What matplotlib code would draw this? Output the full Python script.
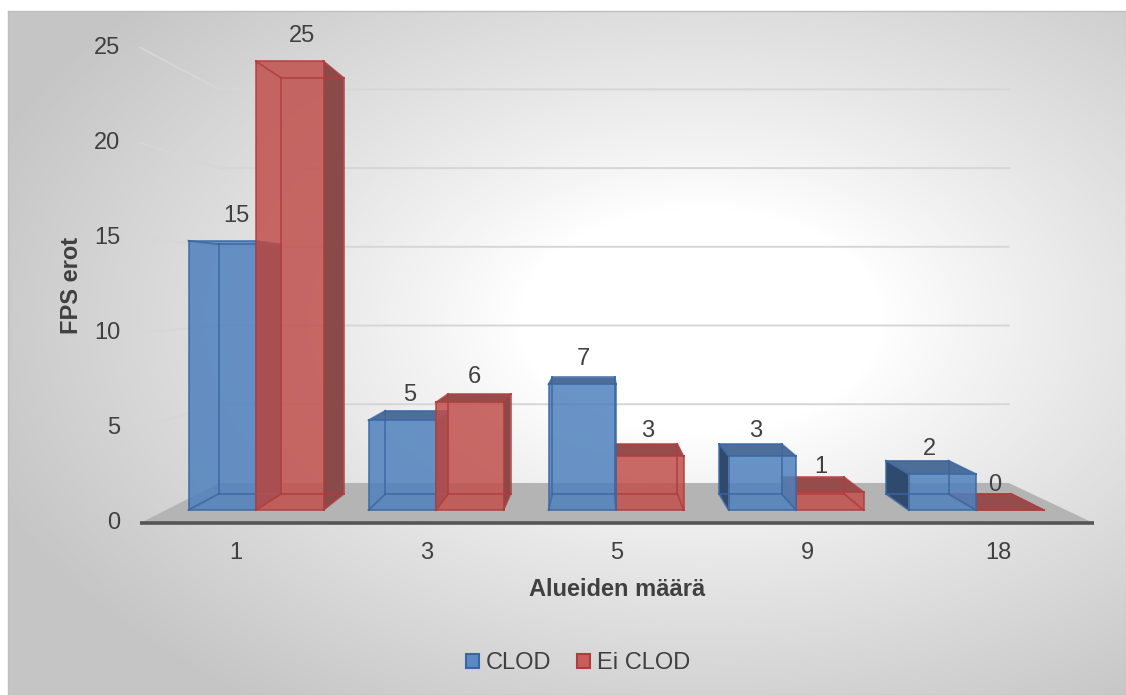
import numpy as np
import matplotlib
matplotlib.use("Agg")
import matplotlib.pyplot as plt
from matplotlib.patches import Polygon, Patch

plt.rcParams['font.family'] = ['Liberation Sans', 'DejaVu Sans']

# Data
categories = ['1', '3', '5', '9', '18']
clod = [15, 5, 7, 3, 2]
ei_clod = [25, 6, 3, 1, 0]
series_names = ['CLOD', 'Ei CLOD']
y_ticks = [0, 5, 10, 15, 20, 25]

# Styling
TEXT = '#404040'
FRONT = ['#4f81bd', '#c0504d']
SIDE = ['#2f4a6c', '#8a4a4a']
TOP = ['#4c6e98', '#974c4c']
EDGE = ['#3a67a3', '#b03d3c']
FS = 17

# Perspective: vanishing point (data units) and focal depth
VX, VY, F = 1.911, 12.26, 12.7
BAR_W = 0.375
Z_FRONT, Z_BACK = -0.71, 1.78
X_LEFT, X_RIGHT = -0.5, len(categories) - 0.5


def proj(x, y, z):
    s = F / (F + z)
    return VX + (x - VX) * s, VY + (y - VY) * s


def poly(ax, pts, **kw):
    xy = [proj(*p) for p in pts]
    ax.add_patch(Polygon(xy, closed=True, **kw))


def draw_box(ax, x0, x1, v, k):
    # visible side faces
    if x1 < VX:
        poly(ax, [(x1, 0, 0), (x1, 0, 1), (x1, v, 1), (x1, v, 0)],
             facecolor=SIDE[k], edgecolor='none', zorder=3)
    if x0 > VX:
        poly(ax, [(x0, 0, 0), (x0, 0, 1), (x0, v, 1), (x0, v, 0)],
             facecolor=SIDE[k], edgecolor='none', zorder=3)
    if v < VY:
        poly(ax, [(x0, v, 0), (x1, v, 0), (x1, v, 1), (x0, v, 1)],
             facecolor=TOP[k], edgecolor='none', zorder=3)
    poly(ax, [(x0, 0, 0), (x1, 0, 0), (x1, v, 0), (x0, v, 0)],
         facecolor=FRONT[k], alpha=0.85, edgecolor='none', zorder=3)
    # all twelve edges, shown through the transparent faces
    for xa in (x0, x1):
        for ya in (0, v):
            xs, ys = zip(proj(xa, ya, 0), proj(xa, ya, 1))
            ax.plot(xs, ys, color=EDGE[k], lw=1.3, alpha=0.8, zorder=3)
    for z in (0, 1):
        for ya in (0, v):
            xs, ys = zip(proj(x0, ya, z), proj(x1, ya, z))
            ax.plot(xs, ys, color=EDGE[k], lw=1.3, alpha=0.8, zorder=3)
        for xa in (x0, x1):
            xs, ys = zip(proj(xa, 0, z), proj(xa, v, z))
            ax.plot(xs, ys, color=EDGE[k], lw=1.3, alpha=0.8, zorder=3)


fig = plt.figure(figsize=(11.26, 6.95), dpi=100)

# gradient background of chart area
W, H = 1126, 695
bg = fig.add_axes([8 / W, 0, 1 - 8 / W, 1 - 11 / H])
py, px = np.mgrid[11:H, 8:W]
d = np.sqrt(((px - 700) / 650.0) ** 2 + ((py - 320) / 400.0) ** 2)
t = np.clip((d - 0.28) / 0.9, 0, 1) ** 0.9
gray = (255 - 58 * t) / 255.0
bg.imshow(np.dstack([gray, gray, gray]), aspect='auto', interpolation='bilinear')
bg.set_xticks([])
bg.set_yticks([])
for s in bg.spines.values():
    s.set_color('#bfbfbf')
    s.set_linewidth(1.0)

ax = fig.add_axes([0, 0, 1, 1])
ax.set_facecolor('none')
ax.set_xlim(-256 / 180, 870 / 180)
ax.set_ylim(-185 / 17.95, 510 / 17.95)
ax.axis('off')

# floor
poly(ax, [(X_LEFT, 0, Z_FRONT), (X_RIGHT, 0, Z_FRONT), (X_RIGHT, 0, Z_BACK), (X_LEFT, 0, Z_BACK)],
     facecolor='#b4b4b4', edgecolor='none', zorder=1)
xs, ys = zip(proj(X_LEFT, 0, Z_FRONT), proj(X_RIGHT, 0, Z_FRONT))
ax.plot(xs, ys, color='#555555', lw=2.6, solid_capstyle='butt', zorder=2)

# gridlines on left and back walls
for v in y_ticks[1:]:
    pts = [proj(X_LEFT, v, Z_FRONT), proj(X_LEFT, v, Z_BACK), proj(X_RIGHT, v, Z_BACK)]
    xs, ys = zip(*pts)
    ax.plot(xs, ys, color='#d6d6d6', lw=1.4, zorder=1.5)

# tick labels
for v in y_ticks:
    ax.annotate(str(v), proj(X_LEFT, v, Z_FRONT), xytext=(-20, 0), textcoords='offset pixels',
                ha='right', va='center', fontsize=FS, color=TEXT)
for i, c in enumerate(categories):
    ax.annotate(c, proj(i, 0, Z_FRONT), xytext=(0, -30), textcoords='offset pixels',
                ha='center', va='center', fontsize=FS, color=TEXT)

# bars, farthest from vanishing point first
bars = []
for i in range(len(categories)):
    for k, vals in enumerate([clod, ei_clod]):
        x0 = i - BAR_W + k * BAR_W
        bars.append((x0, x0 + BAR_W, vals[i], k))
bars.sort(key=lambda b: -abs((b[0] + b[1]) / 2 - VX))
for x0, x1, v, k in bars:
    draw_box(ax, x0, x1, v, k)

# data labels
for x0, x1, v, k in bars:
    xc = (x0 + x1) / 2
    lx = proj(xc, v, 0.5)[0]
    ly = proj(xc, v, 0)[1]
    ax.annotate(str(v), (lx, ly), xytext=(0, 25), textcoords='offset pixels',
                ha='center', va='center', fontsize=FS, color=TEXT, zorder=6)

# axis titles
fig.text(72 / W, 1 - 285 / H, 'FPS erot', rotation=90, ha='center', va='center',
         fontsize=FS, fontweight='bold', color=TEXT)
fig.text(617 / W, 1 - 590 / H, 'Alueiden määrä', ha='center', va='center',
         fontsize=FS, fontweight='bold', color=TEXT)

handles = [Patch(facecolor='#5b89c4', edgecolor='#3a67a3', lw=1.5),
           Patch(facecolor='#c75e5c', edgecolor='#b03d3c', lw=1.5)]
fig.legend(handles, series_names, loc='center', bbox_to_anchor=(578 / W, 1 - 663 / H),
           ncol=2, frameon=False, fontsize=FS, labelcolor=TEXT,
           handlelength=0.55, handleheight=0.55, handletextpad=0.3, columnspacing=1.1)

fig.savefig('out.png', dpi=100)
